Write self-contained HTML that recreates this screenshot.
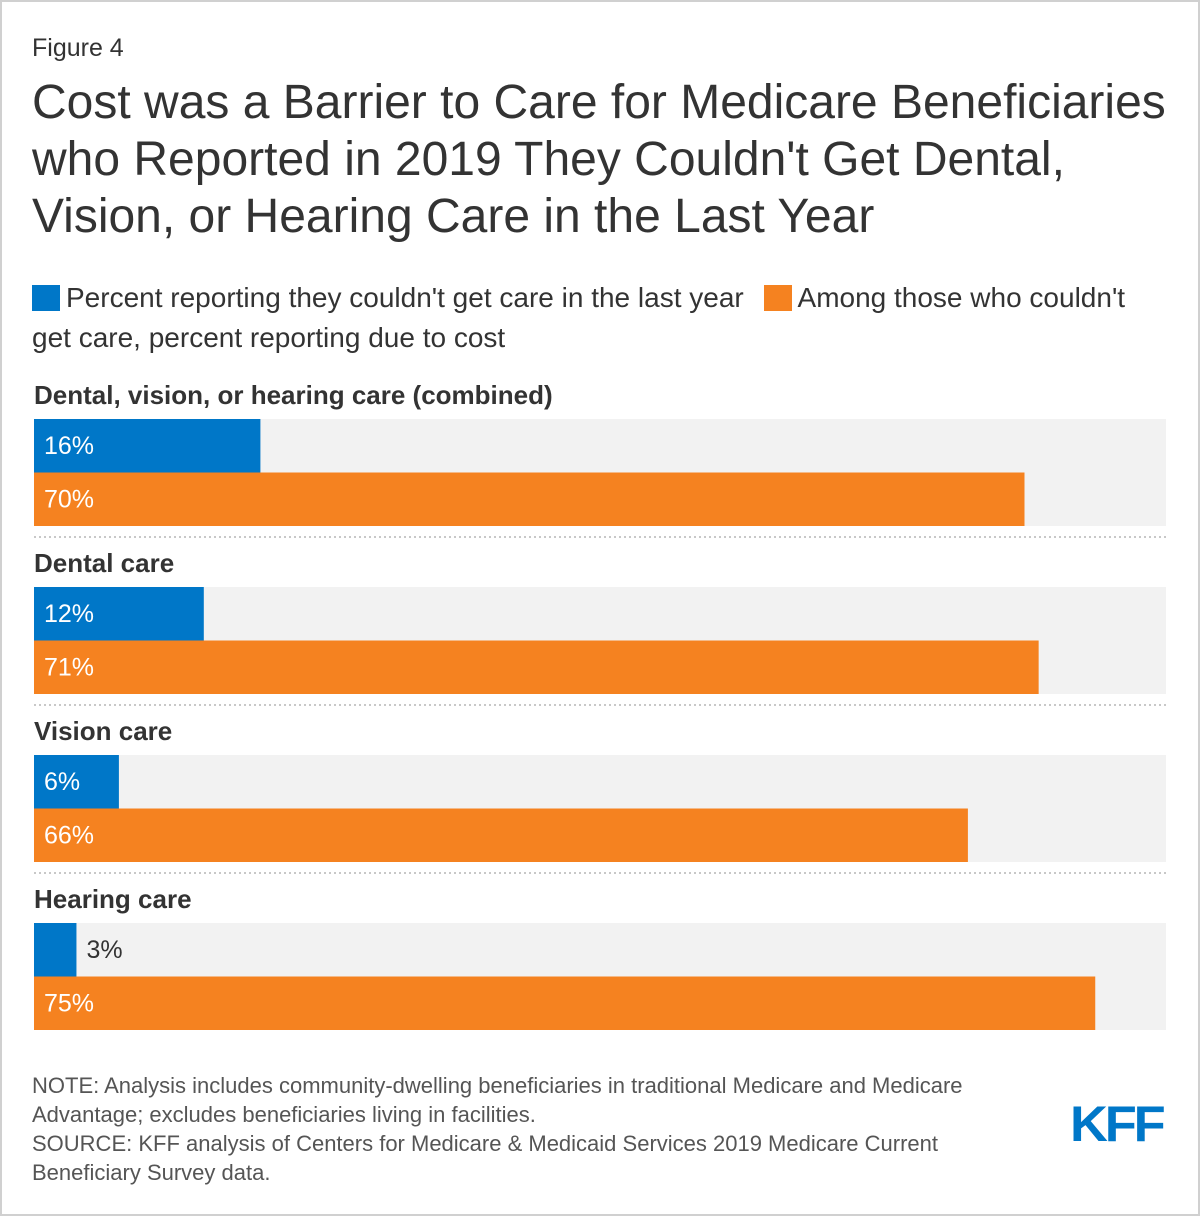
<!DOCTYPE html>
<html><head><meta charset="utf-8"><style>
body{margin:0;background:#fff;font-family:"Liberation Sans",Arial,sans-serif;color:#333}
#wrap{position:relative;width:1196px;height:1212px;border:2px solid #d0d0d0;overflow:hidden}
.t{position:absolute;left:30px;white-space:nowrap}
</style></head><body>
<div id="wrap">
<div class="t" style="top:32px;font-size:25px;color:#333">Figure 4</div>
<div class="t" style="top:72px;font-size:48px;line-height:57px;color:#333">Cost was a Barrier to Care for Medicare Beneficiaries<br>who Reported in 2019 They Couldn't Get Dental,<br>Vision, or Hearing Care in the Last Year</div>
<div class="t" style="top:276px;font-size:28px;line-height:40px;color:#333">
<span><span style="display:inline-block;width:28px;height:26px;background:#0077c8;vertical-align:-4px;margin-right:6px"></span>Percent reporting they couldn't get care in the last year</span>
<span style="margin-left:12px"><span style="display:inline-block;width:28px;height:26px;background:#f58220;vertical-align:-4px;margin-right:6px"></span>Among those who couldn't</span><br>get care, percent reporting due to cost</div>
<svg id="chart" width="1200" height="1060" style="position:absolute;left:-2px;top:-2px"></svg>
<div class="t" style="top:1069px;font-size:22px;line-height:29px;color:#555">NOTE: Analysis includes community-dwelling beneficiaries in traditional Medicare and Medicare<br>Advantage; excludes beneficiaries living in facilities.<br>SOURCE: KFF analysis of Centers for Medicare &amp; Medicaid Services 2019 Medicare Current<br>Beneficiary Survey data.</div>
<div style="position:absolute;left:1068px;top:1097px;font-size:50px;font-weight:bold;color:#0077c8;letter-spacing:-3px;transform:scaleX(1.05);transform-origin:left;line-height:50px">KFF</div>
</div>
<script>
const categories=["Dental, vision, or hearing care (combined)","Dental care","Vision care","Hearing care"];
const couldntGet=[16,12,6,3];
const dueToCost=[70,71,66,75];
const xMax=80;
const svg=document.getElementById('chart');
const NS='http://www.w3.org/2000/svg';
const x0=34,plotW=1132;
const x=v=>v/xMax*plotW;
function mk(t,a){const e=document.createElementNS(NS,t);for(const k in a)e.setAttribute(k,a[k]);svg.appendChild(e);return e;}
categories.forEach((c,i)=>{
  const top=419+i*168;
  const lab=mk('text',{x:34,y:top-15,'font-size':26,'font-weight':'bold',fill:'#333'});
  lab.textContent=c;
  
  
  const bg=mk('rect',{x:x0,y:top,width:plotW,height:107,fill:'#f2f2f2'});
  
  
  [[couldntGet[i],'#0077c8'],[dueToCost[i],'#f58220']].forEach(([v,col],j)=>{
    const w=x(v),y=top+j*53.5;
    const r=mk('rect',{x:x0,y:y,width:w,height:53.5,fill:col});
    
    
    const inside=w>60;
    const t=mk('text',{x:inside?x0+10:x0+w+10,y:y+35,'font-size':25,fill:inside?'#fff':'#333'});
    t.textContent=v+'%';
    
    
  });
  if(i<categories.length-1){
    const l=mk('line',{x1:34,x2:1166,y1:top+118,y2:top+118,stroke:'#c8c8c8','stroke-width':2,'stroke-dasharray':'2 3'});
    
    
  }
});
</script>
</body></html>
